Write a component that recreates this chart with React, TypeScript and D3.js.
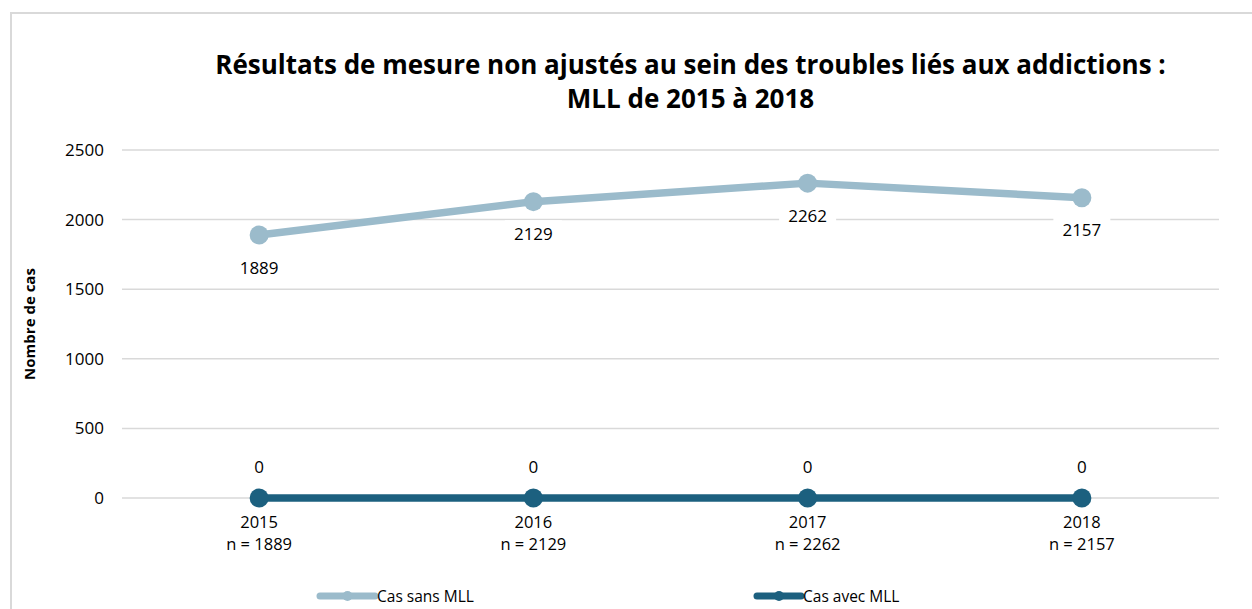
import React from "react";
import * as d3 from "d3";

const categories = ["2015", "2016", "2017", "2018"];
const nLabels = ["n = 1889", "n = 2129", "n = 2262", "n = 2157"];
const casSansMLL = [1889, 2129, 2262, 2157];
const casAvecMLL = [0, 0, 0, 0];
const yTicks = [0, 500, 1000, 1500, 2000, 2500];
const seriesNames = ["Cas sans MLL", "Cas avec MLL"];
const titleLines = [
  "Résultats de mesure non ajustés au sein des troubles liés aux addictions :",
  "MLL de 2015 à 2018",
];

const W = 1252;
const H = 609;
const FONT = "'Open Sans', 'Noto Sans', sans-serif";
const LIGHT = "#9BBBCB";
const DARK = "#1C607F";

export default function App() {
  const x = d3.scaleBand<string>().domain(categories).range([122, 1219]);
  const y = d3.scaleLinear().domain([0, 2500]).range([498, 150]);
  const cx = (c: string) => (x(c) as number) + x.bandwidth() / 2;
  const line = d3
    .line<number>()
    .x((_, i) => cx(categories[i]))
    .y((d) => y(d));

  const series = [
    { name: seriesNames[0], values: casSansMLL, color: LIGHT, labelDy: 38.5 },
    { name: seriesNames[1], values: casAvecMLL, color: DARK, labelDy: -25 },
  ];

  return (
    <svg
      width={W}
      height={H}
      style={{ position: "absolute", left: 0, top: 0, background: "#fff" }}
      fontFamily={FONT}
    >
      <rect x={11} y={13} width={1300} height={700} fill="#fff" stroke="#D9D9D9" strokeWidth={2} />
      {titleLines.map((t, i) => (
        <text
          key={i}
          x={690.5}
          y={74 + i * 34}
          textAnchor="middle"
          fontSize={26}
          fontWeight="bold"
          fill="#000"
        >
          {t}
        </text>
      ))}
      {yTicks.map((t) => (
        <g key={t}>
          <line x1={122} x2={1219} y1={y(t)} y2={y(t)} stroke="#D9D9D9" strokeWidth={1.5} />
          <text x={104} y={y(t) + 6} textAnchor="end" fontSize={17} fill="#000">
            {t}
          </text>
        </g>
      ))}
      <text
        transform={`translate(35,${y(1250)}) rotate(-90)`}
        textAnchor="middle"
        fontSize={15}
        fontWeight="bold"
        fill="#000"
      >
        Nombre de cas
      </text>
      {categories.map((c, i) => (
        <g key={c}>
          <text x={cx(c)} y={528} textAnchor="middle" fontSize={16.5} fill="#000">
            {c}
          </text>
          <text x={cx(c)} y={550} textAnchor="middle" fontSize={16.5} fill="#000">
            {nLabels[i]}
          </text>
        </g>
      ))}
      {series.map((s) => (
        <g key={s.name}>
          <path d={line(s.values) || ""} fill="none" stroke={s.color} strokeWidth={7.5} strokeLinejoin="round" />
          {s.values.map((v, i) => (
            <circle key={i} cx={cx(categories[i])} cy={y(v)} r={9.5} fill={s.color} />
          ))}
        </g>
      ))}
      {series.map((s) =>
        s.values.map((v, i) => {
          const lx = cx(categories[i]);
          const ly = y(v) + s.labelDy;
          return (
            <g key={s.name + i}>
              {s.labelDy > 0 && <rect x={lx - 28.5} y={ly - 20} width={57} height={26} fill="#fff" />}
              <text x={lx} y={ly} textAnchor="middle" fontSize={17} fill="#000">
                {v}
              </text>
            </g>
          );
        })
      )}
      {[
        { x0: 320, x1: 375, color: LIGHT, name: seriesNames[0] },
        { x0: 757, x1: 801, color: DARK, name: seriesNames[1] },
      ].map((l) => (
        <g key={l.name}>
          <line x1={l.x0} x2={l.x1} y1={596} y2={596} stroke={l.color} strokeWidth={7} strokeLinecap="round" />
          <circle cx={(l.x0 + l.x1) / 2} cy={596} r={5} fill={l.color} />
          <text x={l.x1 + 2} y={601.5} fontSize={15.5} fill="#000">
            {l.name}
          </text>
        </g>
      ))}
    </svg>
  );
}
